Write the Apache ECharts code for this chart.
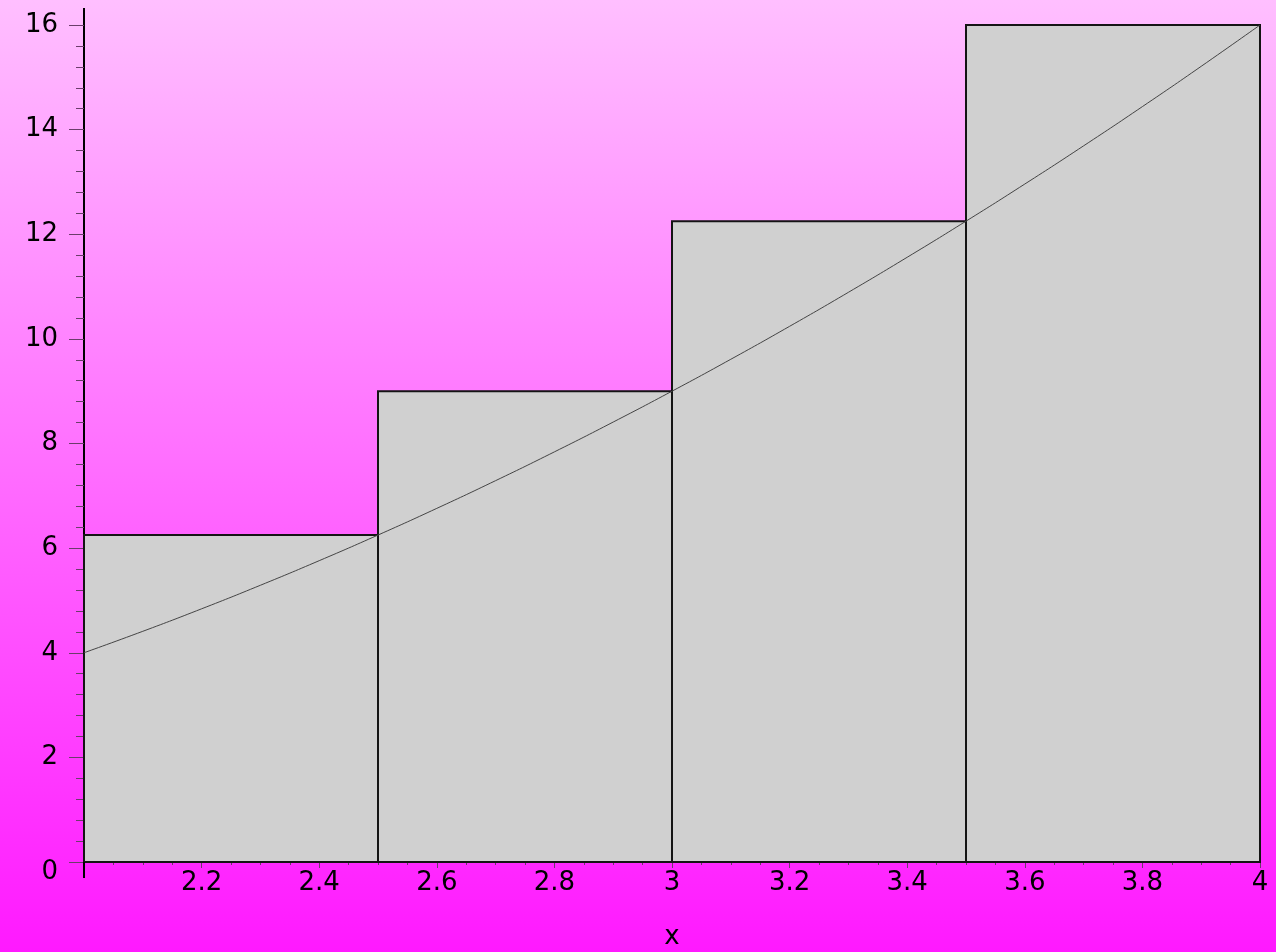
<!DOCTYPE html>
<html>
<head>
<meta charset="utf-8">
<script src="https://cdn.jsdelivr.net/npm/echarts@6/dist/echarts.min.js"></script>
<style>
  html, body { margin: 0; padding: 0; }
  #main { width: 1276px; height: 952px; }
</style>
</head>
<body>
<div id="main"></div>
<script>
// rectangles (right endpoint sums)
const rectLeft = [2, 2.5, 3, 3.5];
const rectRight = [2.5, 3, 3.5, 4];
const rectHeight = [6.25, 9, 12.25, 16];

// curve
const curveX = [2, 2.1, 2.2, 2.3, 2.4, 2.5, 2.6, 2.7, 2.8, 2.9, 3, 3.1, 3.2, 3.3, 3.4, 3.5, 3.6, 3.7, 3.8, 3.9, 4];
const curveY = [4, 4.41, 4.84, 5.29, 5.76, 6.25, 6.76, 7.29, 7.84, 8.41, 9, 9.61, 10.24, 10.89, 11.56, 12.25, 12.96, 13.69, 14.44, 15.21, 16];

const xTicks = { min: 2, max: 4, interval: 0.2 };
const yTicks = { min: 0, max: 16, interval: 2 };

const myChart = echarts.init(document.getElementById('main'));

const rectData = rectLeft.map((x0, i) => [x0, rectRight[i], rectHeight[i]]);
const curveData = curveX.map((x, i) => [x, curveY[i]]);

const labelFont = { color: '#000', fontSize: 26, fontFamily: 'DejaVu Sans' };
const tickColor = '#6a3d6a';

myChart.setOption({
  backgroundColor: new echarts.graphic.LinearGradient(0, 0, 0, 1, [
    { offset: 0, color: '#ffbfff' },
    { offset: 1, color: '#ff19ff' }
  ]),
  animation: false,
  grid: {
    left: 84,
    right: 16,
    top: 25,
    bottom: 90,
    outerBoundsMode: 'none',
    containLabel: false
  },
  xAxis: {
    type: 'value',
    min: xTicks.min,
    max: xTicks.max,
    interval: xTicks.interval,
    name: 'x',
    nameLocation: 'middle',
    nameGap: 62,
    nameTextStyle: labelFont,
    splitLine: { show: false },
    axisLine: { onZero: false, lineStyle: { color: '#000', width: 2 } },
    axisTick: { length: 6, lineStyle: { color: tickColor } },
    minorTick: { show: true, splitNumber: 4, length: 3, lineStyle: { color: tickColor } },
    axisLabel: Object.assign({
      margin: 8,
      showMinLabel: false,
      formatter: v => String(Math.round(v * 10) / 10)
    }, labelFont)
  },
  yAxis: {
    type: 'value',
    min: yTicks.min,
    max: yTicks.max,
    interval: yTicks.interval,
    splitLine: { show: false },
    axisLine: { show: true, lineStyle: { color: '#000', width: 2 } },
    axisTick: { length: 15, lineStyle: { color: tickColor } },
    minorTick: { show: true, splitNumber: 5, length: 8, lineStyle: { color: tickColor } },
    axisLabel: Object.assign({
      margin: 26,
      formatter: v => v === 0 ? '{z|0}' : String(v),
      rich: { z: { fontSize: 26, fontFamily: 'DejaVu Sans', color: '#000', padding: [20, 0, 0, 0] } }
    }, labelFont)
  },
  series: [
    {
      type: 'custom',
      data: rectData,
      encode: { x: [0, 1], y: 2 },
      z: 2,
      renderItem: (params, api) => {
        const p0 = api.coord([api.value(0), api.value(2)]);
        const p1 = api.coord([api.value(1), 0]);
        return {
          type: 'rect',
          shape: { x: p0[0], y: p0[1], width: p1[0] - p0[0], height: p1[1] - p0[1] },
          style: { fill: '#d0d0d0', stroke: '#141414', lineWidth: 2 }
        };
      }
    },
    {
      type: 'line',
      data: curveData,
      smooth: true,
      symbol: 'none',
      z: 3,
      lineStyle: { color: '#444', width: 1 }
    }
  ]
});

// axis line runs a little past the plot at both ends
const axisTop = myChart.convertToPixel({ gridIndex: 0 }, [xTicks.min, yTicks.max]);
const axisBot = myChart.convertToPixel({ gridIndex: 0 }, [xTicks.min, yTicks.min]);
myChart.setOption({
  graphic: [
    { type: 'line', shape: { x1: axisTop[0], y1: axisTop[1] - 17, x2: axisTop[0], y2: axisTop[1] }, style: { stroke: '#000', lineWidth: 2 }, z: 10 },
    { type: 'line', shape: { x1: axisBot[0], y1: axisBot[1], x2: axisBot[0], y2: axisBot[1] + 16 }, style: { stroke: '#000', lineWidth: 2 }, z: 10 }
  ]
});
</script>
</body>
</html>
